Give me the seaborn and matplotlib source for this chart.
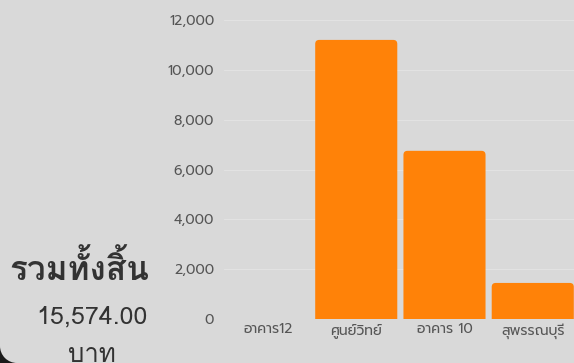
import matplotlib
matplotlib.use("Agg")
import seaborn as sns
import matplotlib.pyplot as plt
import pandas as pd
from matplotlib.patches import FancyBboxPatch, Rectangle, Circle

# Data
buildings = ["อาคาร12", "ศูนย์วิทย์", "อาคาร 10", "สุพรรณบุรี"]
amounts = [0, 11200, 6750, 1450]
y_ticks = [0, 2000, 4000, 6000, 8000, 10000, 12000]
total_label = "รวมทั้งสิ้น"
total_value = "15,574.00"
unit_label = "บาท"

bg = "#d9d9d9"
orange = "#ff8208"
looped = ["Loma", "Noto Sans Thai Looped", "DejaVu Sans"]

sns.set_theme(style="white")
plt.rcParams["font.family"] = ["Prompt", "DejaVu Sans"]

df = pd.DataFrame({"building": buildings, "amount": amounts})

fig = plt.figure(figsize=(5.74, 3.63), dpi=100, facecolor=bg)
ax = fig.add_axes([0.390, 0.121, 0.615, 0.824])
ax.set_facecolor(bg)

sns.barplot(data=df, x="building", y="amount", color=orange,
            width=0.93, saturation=1, ax=ax)

# Rounded top corners
px_x = 1 / 88.0
px_y = 12000 / 299.0
r = 4 * px_x
for p in list(ax.patches):
    x0, w, h = p.get_x(), p.get_width(), p.get_height()
    p.remove()
    if h <= 0:
        continue
    ax.add_patch(FancyBboxPatch((x0, -500), w, h + 500,
                                boxstyle=f"round,pad=0,rounding_size={r}",
                                mutation_aspect=px_y / px_x,
                                fc=orange, ec="none", zorder=2))

ax.set_ylim(0, 12000)
ax.set_xlim(-0.5, 3.5)
ax.set_yticks(y_ticks)
ax.set_yticklabels([f"{v:,}" for v in y_ticks])
ax.yaxis.grid(True, color="#e2e2e2", linewidth=0.8)
ax.set_axisbelow(True)
ax.tick_params(axis="y", length=0, pad=7, labelsize=10, labelcolor="#555555")
ax.tick_params(axis="x", length=0, pad=3, labelsize=10, labelcolor="#555555")
ax.set(xlabel="", ylabel="")
sns.despine(ax=ax, left=True, bottom=True)

# Total text on the left
fig.text(9 / 574, 0.262, total_label, family=looped,
         weight="bold", fontsize=24, color="#333333", va="center", ha="left")
fig.text(92 / 574, 0.127, total_value, family=looped,
         fontsize=18, color="#333333", va="center", ha="center")
fig.text(92 / 574, 0.022, unit_label, family=looped,
         fontsize=18.5, color="#333333", va="center", ha="center")

# Dark rounded corner at the bottom left
rad = 17
fig.patches.append(Rectangle((0, 0), rad, rad, transform=None,
                             fc="#1a1a1a", ec="none"))
fig.patches.append(Circle((rad, rad), rad, transform=None,
                          fc=bg, ec="none"))

fig.savefig("out.png", facecolor=bg)
